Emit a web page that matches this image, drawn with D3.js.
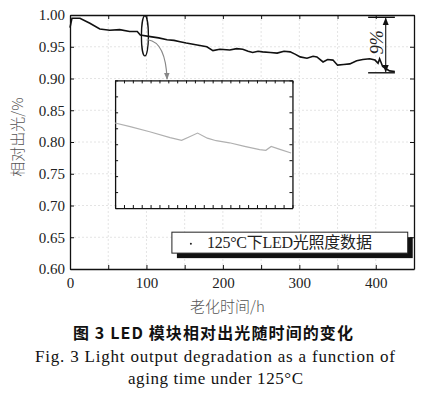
<!DOCTYPE html>
<html>
<head>
<meta charset="utf-8">
<script src="https://cdn.jsdelivr.net/npm/d3@7"></script>
<style>
  body { margin: 0; background: #fff; }
  svg { display: block; }
</style>
</head>
<body>
<div id="chart"></div>
<script>
// main curve (hours, relative light output)
let time = [0, 2.6, 13, 26, 39, 52, 65, 78, 88, 92, 105, 116, 127, 136, 144, 152, 161, 170, 179, 187, 196,
  209, 218, 226, 233, 239, 246, 252, 262, 271, 280, 288, 295, 301, 310, 318, 323, 331, 337, 344, 350,
  358, 366, 375, 383, 392, 399, 403, 405, 409, 414, 418, 425]
let lightOutput = [0.980, 0.995, 0.995, 0.987, 0.978, 0.976, 0.977, 0.974, 0.974, 0.9685, 0.966, 0.964,
  0.961, 0.960, 0.958, 0.956, 0.954, 0.952, 0.950, 0.944, 0.946, 0.945, 0.947, 0.946, 0.943, 0.941,
  0.943, 0.942, 0.941, 0.940, 0.943, 0.942, 0.938, 0.934, 0.932, 0.935, 0.934, 0.926, 0.930, 0.929,
  0.921, 0.922, 0.923, 0.928, 0.930, 0.931, 0.929, 0.924, 0.931, 0.919, 0.915, 0.912, 0.911]

// zoomed-in inset (no labels in the original)
let insetTime = [0, 1.7, 3.9, 6.2, 7.5, 8.4, 9.3, 10.4, 11.4, 12.9, 14.6, 16.3, 17.0, 17.6, 18.5, 19.85]
let insetValue = [5.33, 5.1, 4.78, 4.41, 4.24, 4.47, 4.70, 4.38, 4.22, 4.09, 3.87, 3.66, 3.62, 3.86, 3.69, 3.45]

let xTicks = [0, 50, 100, 150, 200, 250, 300, 350, 400, 450]
let yTicks = [0.60, 0.65, 0.70, 0.75, 0.80, 0.85, 0.90, 0.95, 1.00]

let legendLabel = "125°C下LED光照度数据"
let xLabel = "老化时间/h"
let yLabel = "相对出光/%"
let caption1 = "图 3  LED 模块相对出光随时间的变化"
let caption2 = "Fig. 3  Light output degradation as a function of"
let caption3 = "aging time under 125°C"

let W = 434, H = 397
let margin = {top: 15, right: 20, bottom: 128, left: 70}
let width = 414 - margin.left, height = 269 - margin.top
let serif = "'Liberation Serif', 'DejaVu Serif', serif"

let svg = d3.select("#chart").append("svg")
    .attr("width", W).attr("height", H)
svg.append("rect").attr("width", W).attr("height", H).attr("fill", "#fff")

let defs = svg.append("defs")
defs.append("marker").attr("id", "headBlack").attr("viewBox", "0 0 10 10")
    .attr("refX", 9).attr("refY", 5).attr("markerWidth", 7).attr("markerHeight", 7)
    .attr("orient", "auto-start-reverse")
    .append("path").attr("d", "M0,1 L10,5 L0,9 z").attr("fill", "#111")
defs.append("marker").attr("id", "headGray").attr("viewBox", "0 0 10 10")
    .attr("refX", 9).attr("refY", 5).attr("markerWidth", 6).attr("markerHeight", 6)
    .attr("orient", "auto")
    .append("path").attr("d", "M0,1 L10,5 L0,9 z").attr("fill", "#888")

let g = svg.append("g").attr("transform", `translate(${margin.left},${margin.top})`)

let x = d3.scaleLinear().domain([0, 450]).range([0, width])
let y = d3.scaleLinear().domain([0.60, 1.00]).range([height, 0])

// faint grid
g.append("g").selectAll("line").data(xTicks.filter(d => d > 0 && d < 450)).join("line")
    .attr("x1", d => x(d)).attr("x2", d => x(d)).attr("y1", 0).attr("y2", height)
    .attr("stroke", "#e4e4e4").attr("stroke-dasharray", "2,2")
g.append("g").selectAll("line").data(yTicks.filter(d => d > 0.6 && d < 1)).join("line")
    .attr("x1", 0).attr("x2", width).attr("y1", d => y(d)).attr("y2", d => y(d))
    .attr("stroke", "#e4e4e4").attr("stroke-dasharray", "2,2")

// axes, ticks inside
let styleAxis = sel => {
    sel.selectAll("text").style("font-family", serif).style("font-size", "15px").attr("fill", "#222")
    sel.selectAll("line").attr("stroke", "#111")
    sel.select(".domain").attr("stroke", "#111").attr("stroke-width", 1.3)
}
g.append("g").attr("transform", `translate(0,${height})`)
    .call(d3.axisBottom(x).tickValues(xTicks).tickSize(-4).tickSizeOuter(0).tickPadding(8)
        .tickFormat(d => d % 100 === 0 ? d : ""))
    .call(styleAxis)
g.append("g")
    .call(d3.axisTop(x).tickValues(xTicks).tickSize(-4).tickSizeOuter(0).tickFormat(""))
    .call(styleAxis)
g.append("g")
    .call(d3.axisLeft(y).tickValues(yTicks).tickSize(-4).tickSizeOuter(0).tickPadding(5)
        .tickFormat(d3.format(".2f")))
    .call(styleAxis)
g.append("g").attr("transform", `translate(${width},0)`)
    .call(d3.axisRight(y).tickValues(yTicks).tickSize(-4).tickSizeOuter(0).tickFormat(""))
    .call(styleAxis)

// main line
let line = d3.line().x((d, i) => x(time[i])).y(d => y(d))
g.append("path").datum(lightOutput).attr("d", line)
    .attr("fill", "none").attr("stroke", "#111").attr("stroke-width", 1.6)

// ellipse marking the zoomed region and curved pointer
let ex = x(98), ey = y(0.967)
g.append("ellipse").attr("cx", ex).attr("cy", ey).attr("rx", 3.5).attr("ry", y(0.95) - y(0.9815))
    .attr("fill", "none").attr("stroke", "#111").attr("stroke-width", 1.3)
let p0 = [x(102), y(0.961)], p1 = [x(127), y(0.899)], c = [x(125), y(0.957)]
g.append("path").attr("d", `M${p0[0]},${p0[1]} Q${c[0]},${c[1]} ${p1[0]},${p1[1]}`)
    .attr("fill", "none").attr("stroke", "#888").attr("stroke-width", 1.2)
    .attr("marker-end", "url(#headGray)")

// inset
let ix0 = x(59), ix1 = x(291), iy0 = y(0.897), iy1 = y(0.696)
let inset = g.append("g").attr("transform", `translate(${ix0},${iy0})`)
let iw = ix1 - ix0, ih = iy1 - iy0
let xi = d3.scaleLinear().domain([0, 20]).range([0, iw])
let yi = d3.scaleLinear().domain([0, 8]).range([ih, 0])
inset.append("rect").attr("width", iw).attr("height", ih).attr("fill", "#fff")
inset.append("g").attr("transform", `translate(0,${ih})`)
    .call(d3.axisBottom(xi).ticks(20).tickSize(-3).tickSizeOuter(0).tickFormat("")).call(styleAxis)
inset.append("g")
    .call(d3.axisTop(xi).ticks(20).tickSize(-3).tickSizeOuter(0).tickFormat("")).call(styleAxis)
inset.append("g")
    .call(d3.axisLeft(yi).ticks(8).tickSize(-3).tickSizeOuter(0).tickFormat("")).call(styleAxis)
inset.append("g").attr("transform", `translate(${iw},0)`)
    .call(d3.axisRight(yi).ticks(8).tickSize(-3).tickSizeOuter(0).tickFormat("")).call(styleAxis)
inset.append("path").datum(insetValue)
    .attr("d", d3.line().x((d, i) => xi(insetTime[i])).y(d => yi(d)))
    .attr("fill", "none").attr("stroke", "#b0b0b0").attr("stroke-width", 1.2)

// 9% annotation
let ax0 = x(390), ax1 = x(425), ax = x(413)
g.selectAll(".bar9").data([0.9964, 0.909]).join("line")
    .attr("x1", ax0).attr("x2", ax1).attr("y1", d => y(d)).attr("y2", d => y(d))
    .attr("stroke", "#111").attr("stroke-width", 1.4)
g.append("line").attr("x1", ax).attr("x2", ax).attr("y1", y(0.9964) + 1).attr("y2", y(0.909) - 1)
    .attr("stroke", "#111").attr("stroke-width", 1.1)
    .attr("marker-start", "url(#headBlack)").attr("marker-end", "url(#headBlack)")
g.append("text").attr("transform", `translate(${x(401)},${y(0.957)}) rotate(-90)`)
    .attr("text-anchor", "middle").attr("dy", "0.35em")
    .style("font-family", serif).style("font-style", "italic")
    .style("font-size", "18px").attr("fill", "#222").text("9%")

// legend with drop shadow
let lx = x(133.3), ly = y(0.658), lw = x(441.8) - lx, lh = y(0.625) - ly
g.append("rect").attr("x", lx + 5).attr("y", ly + 5).attr("width", lw).attr("height", lh).attr("fill", "#111")
g.append("rect").attr("x", lx).attr("y", ly).attr("width", lw).attr("height", lh)
    .attr("fill", "#fff").attr("stroke", "#222").attr("stroke-width", 1)
g.append("circle").attr("cx", lx + 19).attr("cy", ly + lh / 2 + 1).attr("r", 1).attr("fill", "#222")
g.append("text").attr("x", lx + 35).attr("y", ly + lh / 2).attr("dy", "0.35em")
    .style("font-family", "'Liberation Serif', 'Noto Sans CJK SC', serif").style("font-size", "16px")
    .attr("fill", "#222").attr("textLength", 165).attr("lengthAdjust", "spacing").text(legendLabel)

// axis titles
svg.append("text").attr("x", margin.left + x(206)).attr("y", 307).attr("text-anchor", "middle")
    .attr("dy", "0.35em").style("font-family", "Noto Sans CJK SC").style("font-weight", 300)
    .style("font-size", "15px").attr("fill", "#555").text(xLabel)
svg.append("text").attr("transform", "translate(18,137) rotate(-90)").attr("text-anchor", "middle")
    .attr("dy", "0.35em").style("font-family", "Noto Sans CJK SC").style("font-weight", 300)
    .style("font-size", "15px").attr("fill", "#555").text(yLabel)

// caption
svg.append("text").attr("x", 73).attr("y", 333).attr("dy", "0.35em")
    .style("font-family", "Noto Sans CJK SC").style("font-weight", 700).style("font-size", "16px")
    .attr("fill", "#111").attr("textLength", 280).attr("lengthAdjust", "spacing").text(caption1)
svg.append("text").attr("x", 35).attr("y", 356).attr("dy", "0.35em")
    .style("font-family", serif).style("font-size", "17px")
    .attr("fill", "#111").attr("textLength", 360).attr("lengthAdjust", "spacing").text(caption2)
svg.append("text").attr("x", 128).attr("y", 378).attr("dy", "0.35em")
    .style("font-family", serif).style("font-size", "17px")
    .attr("fill", "#111").attr("textLength", 175).attr("lengthAdjust", "spacing").text(caption3)
</script>
</body>
</html>
